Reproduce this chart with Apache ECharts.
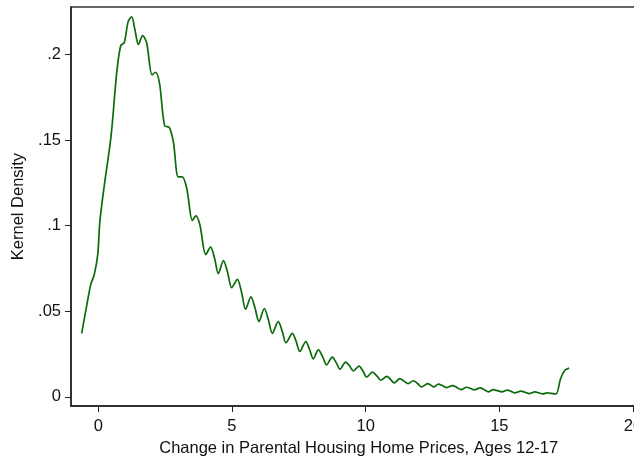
<!DOCTYPE html>
<html>
<head>
<meta charset="utf-8">
<script src="https://cdn.jsdelivr.net/npm/echarts@6/dist/echarts.min.js"></script>
<style>
html,body{margin:0;padding:0;background:#fff;overflow:hidden;width:634px;height:462px;}
#c{width:650px;height:462px;}
</style>
</head>
<body>
<div id="c"></div>
<script>
// Kernel density estimate
const densityX = [
  -0.62, -0.40, -0.28, -0.15, -0.02, 0.06, 0.21, 0.48, 0.69, 0.84, 0.97, 1.12, 1.25, 1.37, 1.50, 1.66,
  1.81, 2.01, 2.14, 2.29, 2.48, 2.66, 2.81, 2.99, 3.14, 3.31, 3.52, 3.65, 3.80,
  4.02, 4.20, 4.35, 4.49, 4.68, 4.84, 4.99, 5.20, 5.36, 5.51, 5.71, 5.86, 6.01, 6.21, 6.36, 6.51, 6.73, 6.88,
  7.02, 7.26, 7.40, 7.54, 7.76, 7.90, 8.04, 8.23, 8.39, 8.54, 8.75, 8.90, 9.04, 9.25, 9.40, 9.54, 9.75, 9.90,
  10.04, 10.25, 10.41, 10.57, 10.79, 10.93, 11.07, 11.28, 11.43, 11.59, 11.78, 11.94, 12.09, 12.32, 12.44, 12.55, 12.72, 12.88,
  13.03, 13.25, 13.41, 13.56, 13.78, 13.92, 14.06, 14.28, 14.43, 14.59, 14.77, 14.93, 15.09, 15.30, 15.44, 15.58, 15.81, 15.96,
  16.12, 16.33, 16.47, 16.62, 16.79, 16.95, 17.12, 17.29, 17.45, 17.61
];
const densityY = [
  0.0371, 0.0561, 0.0657, 0.0715, 0.0831, 0.1024, 0.1217, 0.1526, 0.1894, 0.2052, 0.2068, 0.2193, 0.2219, 0.2145, 0.2058, 0.2110,
  0.2068, 0.1881, 0.1896, 0.1832, 0.1584, 0.1573, 0.1488, 0.1285, 0.1285, 0.1217, 0.1030, 0.1057, 0.1005,
  0.0831, 0.0874, 0.0810, 0.0719, 0.0796, 0.0725, 0.0638, 0.0686, 0.0610, 0.0512, 0.0584, 0.0520, 0.0439, 0.0516, 0.0452, 0.0371, 0.0439, 0.0384,
  0.0316, 0.0371, 0.0324, 0.0265, 0.0323, 0.0278, 0.0222, 0.0274, 0.0235, 0.0187, 0.0232, 0.0200, 0.0161, 0.0203, 0.0180, 0.0151, 0.0180, 0.0151,
  0.0116, 0.0145, 0.0124, 0.0097, 0.0120, 0.0102, 0.0081, 0.0106, 0.0093, 0.0077, 0.0094, 0.0078, 0.0058, 0.0077, 0.0068, 0.0058, 0.0074, 0.0065,
  0.0054, 0.0066, 0.0055, 0.0042, 0.0056, 0.0049, 0.0041, 0.0052, 0.0042, 0.0029, 0.0042, 0.0036, 0.0029, 0.0039, 0.0032, 0.0023, 0.0033, 0.0027,
  0.0019, 0.0029, 0.0024, 0.0017, 0.0023, 0.0020, 0.0017, 0.0106, 0.0155, 0.0168
];
const xTickValues = [0, 5, 10, 15, 20];
const xTickLabels = ['0', '5', '10', '15', '20'];
const yTickValues = [0, 0.05, 0.1, 0.15, 0.2];
const yTickLabels = ['0', '.05', '.1', '.15', '.2'];
const xTitle = 'Change in Parental Housing Home Prices, Ages 12-17';
const yTitle = 'Kernel Density';

const seriesData = densityX.map((x, i) => [x, densityY[i]]);
const font = 'Liberation Sans, Arial, sans-serif';

const chart = echarts.init(document.getElementById('c'), null, {renderer: 'canvas', width: 650, height: 462});
chart.setOption({
  animation: false,
  backgroundColor: '#fff',
  grid: {
    left: 71, top: 7, bottom: 52, right: 3.6,
    show: true, borderColor: '#333', borderWidth: 1.5, backgroundColor: 'transparent'
  },
  xAxis: {
    type: 'value', min: -1.02, max: 20.5,
    name: xTitle, nameLocation: 'middle', nameGap: 29,
    nameTextStyle: {fontFamily: font, fontSize: 16.5, color: '#111'},
    axisLine: {show: true, onZero: false, lineStyle: {color: '#222', width: 1.5}},
    axisTick: {show: true, length: 6, customValues: xTickValues, lineStyle: {color: '#222', width: 1}},
    axisLabel: {customValues: xTickValues, margin: 12, fontFamily: font, fontSize: 16.5, color: '#111',
      formatter: v => xTickLabels[xTickValues.indexOf(v)] ?? ''},
    splitLine: {show: false}
  },
  yAxis: {
    type: 'value', min: -0.0054, max: 0.2277,
    name: yTitle, nameLocation: 'middle', nameGap: 39, nameRotate: 90,
    nameTextStyle: {fontFamily: font, fontSize: 16.5, color: '#111'},
    axisLine: {show: true, onZero: false, lineStyle: {color: '#222', width: 1.5}},
    axisTick: {show: true, length: 6, customValues: yTickValues, lineStyle: {color: '#222', width: 1}},
    axisLabel: {customValues: yTickValues, margin: 10, fontFamily: font, fontSize: 16.5, color: '#111',
      formatter: v => { const i = yTickValues.findIndex(t => Math.abs(t - v) < 1e-9); return i >= 0 ? yTickLabels[i] : ''; }},
    splitLine: {show: false}
  },
  series: [{
    type: 'line',
    data: seriesData,
    showSymbol: false,
    smooth: 0.3,
    lineStyle: {color: '#0a6b0a', width: 1.7},
    clip: true
  }]
});
</script>
</body>
</html>
